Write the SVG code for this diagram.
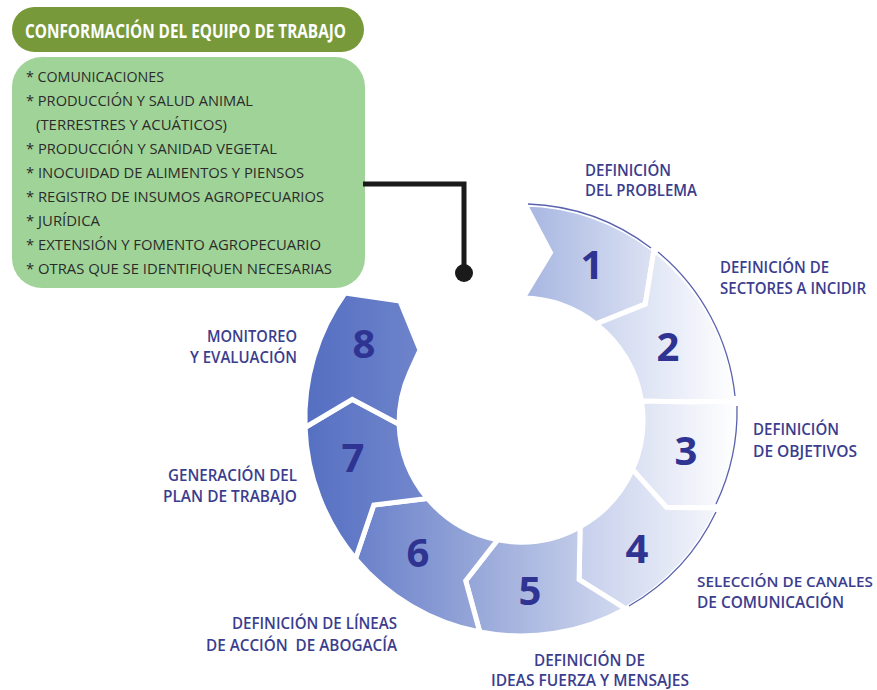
<svg xmlns="http://www.w3.org/2000/svg" width="877" height="690" viewBox="0 0 877 690">
<defs>
<linearGradient id="g1" x1="0" y1="0" x2="1" y2="0"><stop offset="0" stop-color="#a6b5e1"/><stop offset="1" stop-color="#dce2f3"/></linearGradient>
<linearGradient id="g2" x1="0" y1="0" x2="1" y2="0"><stop offset="0" stop-color="#cdd6ef"/><stop offset="1" stop-color="#ffffff"/></linearGradient>
<linearGradient id="g3" x1="0" y1="0" x2="1" y2="0"><stop offset="0" stop-color="#dbe1f3"/><stop offset="1" stop-color="#ffffff"/></linearGradient>
<linearGradient id="g4" x1="0" y1="0" x2="1" y2="0"><stop offset="0" stop-color="#c6cfec"/><stop offset="1" stop-color="#f4f6fb"/></linearGradient>
<linearGradient id="g5" x1="0" y1="0" x2="1" y2="0"><stop offset="0" stop-color="#93a4d7"/><stop offset="1" stop-color="#d3daf0"/></linearGradient>
<linearGradient id="g6" x1="0" y1="0" x2="1" y2="0"><stop offset="0" stop-color="#6a81ca"/><stop offset="1" stop-color="#9dacdb"/></linearGradient>
<linearGradient id="g7" x1="0" y1="0" x2="1" y2="0"><stop offset="0" stop-color="#5670c2"/><stop offset="1" stop-color="#7388cd"/></linearGradient>
<linearGradient id="g8" x1="0" y1="0" x2="1" y2="0"><stop offset="0" stop-color="#546ec1"/><stop offset="1" stop-color="#6e84cb"/></linearGradient>
</defs>
<style>
.seg{stroke:#ffffff;stroke-width:5;stroke-linejoin:miter}
.num{font-family:"Open Sans","DejaVu Sans",sans-serif;font-weight:700;font-size:40px;fill:#2f3391;text-anchor:middle}
.lbl{font-family:"Open Sans","Liberation Sans",sans-serif;font-weight:600;font-size:16px;fill:#3b3d8e}
.item{font-family:"Open Sans","Liberation Sans",sans-serif;font-size:15px;fill:#2b2b2b}
.rim{fill:none;stroke:#5b63ae;stroke-width:1.3}
</style>
<rect width="877" height="690" fill="#ffffff"/>
<g id="titulo">
<rect x="12" y="7" width="352" height="45" rx="22.5" fill="#78993a"/>
<text x="25" y="38" textLength="321" lengthAdjust="spacingAndGlyphs" style="font-family:'Open Sans','Liberation Sans',sans-serif;font-weight:700;font-size:20px;fill:#ffffff">CONFORMACIÓN DEL EQUIPO DE TRABAJO</text>
</g>
<g id="equipo">
<rect x="12" y="57" width="353" height="231" rx="30" fill="#a0d398"/>
<text class="item" x="26" y="82" textLength="138" lengthAdjust="spacingAndGlyphs">* COMUNICACIONES</text>
<text class="item" x="26" y="106" textLength="227" lengthAdjust="spacingAndGlyphs">* PRODUCCIÓN Y SALUD ANIMAL</text>
<text class="item" x="36" y="130" textLength="191" lengthAdjust="spacingAndGlyphs">(TERRESTRES Y ACUÁTICOS)</text>
<text class="item" x="26" y="154" textLength="251" lengthAdjust="spacingAndGlyphs">* PRODUCCIÓN Y SANIDAD VEGETAL</text>
<text class="item" x="26" y="178" textLength="278" lengthAdjust="spacingAndGlyphs">* INOCUIDAD DE ALIMENTOS Y PIENSOS</text>
<text class="item" x="26" y="202" textLength="298" lengthAdjust="spacingAndGlyphs">* REGISTRO DE INSUMOS AGROPECUARIOS</text>
<text class="item" x="26" y="226" textLength="74" lengthAdjust="spacingAndGlyphs">* JURÍDICA</text>
<text class="item" x="26" y="250" textLength="295" lengthAdjust="spacingAndGlyphs">* EXTENSIÓN Y FOMENTO AGROPECUARIO</text>
<text class="item" x="26" y="274" textLength="306" lengthAdjust="spacingAndGlyphs">* OTRAS QUE SE IDENTIFIQUEN NECESARIAS</text>
</g>
<g id="conectores">
<polyline points="363,184 464,184 464,272" fill="none" stroke="#1a1a1a" stroke-width="5"/>
<circle cx="464" cy="273" r="9" fill="#1a1a1a"/>
</g>
<g id="paso1">
<path class="seg" fill="url(#g1)" d="M524.8,204 A216,216 0 0 1 654,249.8 L645.3,304.1 L596.1,323.9 A122,122 0 0 0 523.1,298 L550.5,252.6 Z"/>
<path class="rim" d="M528,204 A216,216 0 0 1 651,248"/>
<text class="num" x="592" y="279">1</text>
<text class="lbl" x="585" y="176" textLength="86" lengthAdjust="spacingAndGlyphs">DEFINICIÓN</text>
<text class="lbl" x="585" y="196" textLength="112" lengthAdjust="spacingAndGlyphs">DEL PROBLEMA</text>
</g>
<g id="paso2">
<path class="seg" fill="url(#g2)" d="M654,249.8 A216,216 0 0 1 736.2,401 L690,402 L641.5,401 A122,122 0 0 0 596.1,323.9 L645.3,304.1 Z"/>
<path class="rim" d="M658,252 A216,216 0 0 1 735,396"/>
<text class="num" x="668" y="361">2</text>
<text class="lbl" x="720" y="273" textLength="109" lengthAdjust="spacingAndGlyphs">DEFINICIÓN DE</text>
<text class="lbl" x="720" y="294" textLength="146" lengthAdjust="spacingAndGlyphs">SECTORES A INCIDIR</text>
</g>
<g id="paso3">
<path class="seg" fill="url(#g3)" d="M736.2,401 A216,216 0 0 1 718.3,507.9 L666.7,507.6 L632.5,469.6 A122,122 0 0 0 641.5,401 L690,402 Z"/>
<path class="rim" d="M737,406 A216,216 0 0 1 716,504"/>
<text class="num" x="686" y="465">3</text>
<text class="lbl" x="753" y="435" textLength="86" lengthAdjust="spacingAndGlyphs">DEFINICIÓN</text>
<text class="lbl" x="753" y="457" textLength="104" lengthAdjust="spacingAndGlyphs">DE OBJETIVOS</text>
</g>
<g id="paso4">
<path class="seg" fill="url(#g4)" d="M718.3,507.9 A216,216 0 0 1 625.7,608.9 L579.1,579.7 L580.1,526.7 A122,122 0 0 0 632.5,469.6 L666.7,507.6 Z"/>
<path class="rim" d="M716,512 A216,216 0 0 1 629,606"/>
<text class="num" x="637" y="563">4</text>
<text class="lbl" x="697" y="587" textLength="176" lengthAdjust="spacingAndGlyphs" style="font-size:14.5px">SELECCIÓN DE CANALES</text>
<text class="lbl" x="697" y="608" textLength="147" lengthAdjust="spacingAndGlyphs">DE COMUNICACIÓN</text>
</g>
<g id="paso5">
<path class="seg" fill="url(#g5)" d="M625.7,608.9 A216,216 0 0 1 479.8,632 L465.7,580.7 L497.7,539.8 A122,122 0 0 0 580.1,526.7 L579.1,579.7 Z"/>
<text class="num" x="530" y="605">5</text>
<text class="lbl" x="534" y="666" textLength="111" lengthAdjust="spacingAndGlyphs">DEFINICIÓN DE</text>
<text class="lbl" x="491" y="686" textLength="198" lengthAdjust="spacingAndGlyphs">IDEAS FUERZA Y MENSAJES</text>
</g>
<g id="paso6">
<path class="seg" fill="url(#g6)" d="M479.8,632 A216,216 0 0 1 355.5,558.8 L373.8,505 L427.5,498.4 A122,122 0 0 0 497.7,539.8 L465.7,580.7 Z"/>
<text class="num" x="418" y="567">6</text>
<text class="lbl" x="232" y="629" textLength="165" lengthAdjust="spacingAndGlyphs">DEFINICIÓN DE LÍNEAS</text>
<text class="lbl" x="206" y="651" textLength="191" lengthAdjust="spacingAndGlyphs" xml:space="preserve">DE ACCIÓN  DE ABOGACÍA</text>
</g>
<g id="paso7">
<path class="seg" fill="url(#g7)" d="M355.5,558.8 A216,216 0 0 1 305.1,427.5 L352.3,399.3 L399.1,424.3 A122,122 0 0 0 427.5,498.4 L373.8,505 Z"/>
<text class="num" x="353" y="472">7</text>
<text class="lbl" x="168" y="481" textLength="129" lengthAdjust="spacingAndGlyphs">GENERACIÓN DEL</text>
<text class="lbl" x="163" y="502" textLength="134" lengthAdjust="spacingAndGlyphs">PLAN DE TRABAJO</text>
</g>
<g id="paso8">
<path class="seg" fill="url(#g8)" d="M305.1,427.5 A216,216 0 0 1 345,293 L400,301 L420,350 L410,372 A122,122 0 0 0 399.1,424.3 L352.3,399.3 Z"/>
<text class="num" x="364" y="358">8</text>
<text class="lbl" x="207" y="342" textLength="90" lengthAdjust="spacingAndGlyphs">MONITOREO</text>
<text class="lbl" x="190" y="363" textLength="107" lengthAdjust="spacingAndGlyphs">Y EVALUACIÓN</text>
</g>
</svg>
